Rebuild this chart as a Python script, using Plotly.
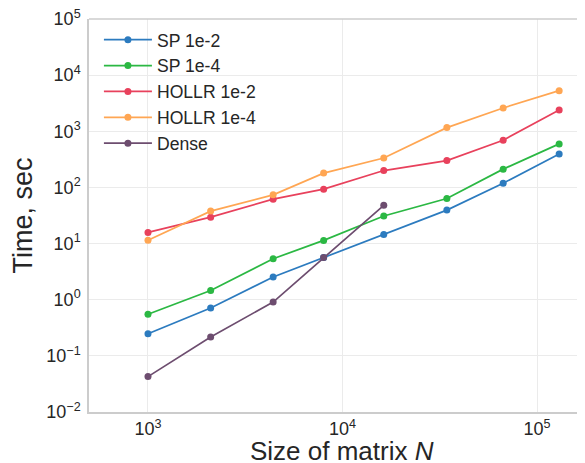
import plotly.graph_objects as go

sizes = [1000, 2100, 4400, 8000, 16300, 34400, 67000, 130000]
sp_1e2 = [0.248, 0.711, 2.54, 5.66, 14.5, 39.5, 119, 396]
sp_1e4 = [0.552, 1.46, 5.37, 11.4, 31.0, 63.4, 212, 597]
hollr_1e2 = [15.8, 29.6, 61.9, 93.3, 200, 301, 695, 2404]
hollr_1e4 = [11.5, 37.9, 73.9, 180, 334, 1164, 2608, 5300]
dense = [0.0427, 0.217, 0.910, 5.66, 48.0]

x_tickvals = [1e3, 1e4, 1e5]
x_ticktext = ["10<sup>3</sup>", "10<sup>4</sup>", "10<sup>5</sup>"]
y_tickvals = [1e-2, 1e-1, 1e0, 1e1, 1e2, 1e3, 1e4, 1e5]
y_ticktext = ["10<sup>\u22122</sup>", "10<sup>\u22121</sup>", "10<sup>0</sup>", "10<sup>1</sup>",
              "10<sup>2</sup>", "10<sup>3</sup>", "10<sup>4</sup>", "10<sup>5</sup>"]
x_title = "Size of matrix <i>N</i>"
y_title = "Time, sec"

series = [
    ("SP 1e-2", sizes, sp_1e2, "#2c7bbf"),
    ("SP 1e-4", sizes, sp_1e4, "#2bb843"),
    ("HOLLR 1e-2", sizes, hollr_1e2, "#e8415c"),
    ("HOLLR 1e-4", sizes, hollr_1e4, "#ffa653"),
    ("Dense", sizes[:len(dense)], dense, "#6d4d6f"),
]

fig = go.Figure()
for name, xs, ys, col in series:
    fig.add_trace(go.Scatter(x=xs, y=ys, name=name, mode="lines+markers",
                             line=dict(color=col, width=1.7),
                             marker=dict(color=col, size=7)))

font_family = "Liberation Sans, Arial, sans-serif"
fig.update_layout(
    width=577, height=455,
    margin=dict(l=81, r=0, t=11, b=51, autoexpand=False),
    paper_bgcolor="white", plot_bgcolor="white",
    font=dict(family=font_family, color="#262626", size=18),
    showlegend=True,
    legend=dict(x=0.02, y=0.993, xanchor="left", yanchor="top",
                bgcolor="rgba(0,0,0,0)", font=dict(size=17.6, color="#262626"),
                tracegroupgap=0, itemwidth=48),
    xaxis=dict(type="log", range=[2.6967, 5.2468], tickvals=x_tickvals, ticktext=x_ticktext,
               showgrid=True, gridcolor="#ebebeb", gridwidth=1, automargin=False,
               showline=True, linecolor="#cccccc", linewidth=1.5, mirror=False,
               ticks="", tickfont=dict(size=18, color="#262626"),
               zeroline=False),
    yaxis=dict(type="log", range=[-2, 5.0008], tickvals=y_tickvals, ticktext=y_ticktext,
               showgrid=True, gridcolor="#ebebeb", gridwidth=1, automargin=False,
               showline=True, linecolor="#cccccc", linewidth=1.5, mirror=False,
               ticks="", ticklabelstandoff=3, ticklabeloverflow="allow",
               tickfont=dict(size=18, color="#262626"),
               zeroline=False),
)
fig.add_annotation(text=x_title, xref="paper", yref="paper", x=0.51, y=-0.0992,
                   xanchor="center", yanchor="middle", showarrow=False,
                   font=dict(size=26, color="#262626"))
fig.add_annotation(text=y_title, xref="paper", yref="paper", x=-0.134, y=0.4987,
                   xanchor="center", yanchor="middle", showarrow=False, textangle=-90,
                   font=dict(size=27, color="#262626"))
fig.add_shape(type="line", xref="paper", yref="paper", x0=0, x1=1, y0=1, y1=1,
              line=dict(color="#cccccc", width=1.5))

fig.write_html("out.html")
